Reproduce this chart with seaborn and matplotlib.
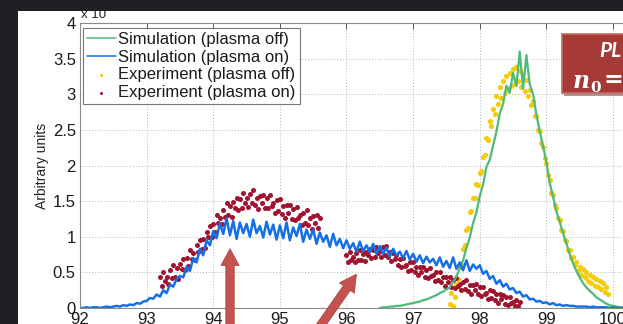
import numpy as np
import pandas as pd
import matplotlib
matplotlib.use("Agg")
import matplotlib.pyplot as plt
import seaborn as sns
from matplotlib.patches import Rectangle, FancyArrowPatch, ArrowStyle

# ---------------------------------------------------------------------------
# Spectra (signal in units of 1e4), sampled on regular energy grids
# ---------------------------------------------------------------------------
SIM_ON_START, SIM_ON_STEP = 92.0, 0.05
sim_on = [
    0.00, 0.00, 0.01, 0.00, 0.01, 0.01, 0.00, 0.01, 0.02, 0.01,
    0.02, 0.03, 0.02, 0.04, 0.03, 0.05, 0.04, 0.07, 0.06, 0.09,
    0.10, 0.14, 0.13, 0.19, 0.16, 0.25, 0.21, 0.33, 0.30, 0.41,
    0.45, 0.43, 0.58, 0.52, 0.70, 0.64, 0.83, 0.74, 0.95, 0.88,
    1.08, 0.98, 1.19, 1.04, 1.26, 1.02, 1.22, 0.97, 1.20, 1.05,
    1.18, 1.00, 1.24, 1.05, 1.15, 0.99, 1.21, 1.03, 1.17, 0.96,
    1.16, 0.98, 1.20, 0.95, 1.13, 1.01, 1.18, 0.93, 1.10, 0.97,
    1.10, 0.90, 1.06, 0.93, 1.02, 0.86, 1.04, 0.88, 0.97, 0.84,
    0.95, 0.83, 0.91, 0.79, 0.93, 0.80, 0.88, 0.78, 0.90, 0.76,
    0.87, 0.76, 0.85, 0.72, 0.83, 0.74, 0.79, 0.70, 0.80, 0.68,
    0.76, 0.65, 0.74, 0.63, 0.72, 0.64, 0.69, 0.60, 0.71, 0.58,
    0.66, 0.56, 0.71, 0.55, 0.64, 0.53, 0.67, 0.52, 0.61, 0.55,
    0.60, 0.48, 0.52, 0.41, 0.45, 0.34, 0.39, 0.30, 0.34, 0.26,
    0.28, 0.21, 0.23, 0.16, 0.18, 0.12, 0.13, 0.09, 0.10, 0.07,
    0.08, 0.05, 0.07, 0.04, 0.05, 0.03, 0.04, 0.03, 0.03, 0.02,
    0.02, 0.02, 0.02, 0.01, 0.02, 0.01, 0.01, 0.01, 0.01, 0.00,
    0.01, 0.00, 0.00, 0.00, 0.00,
]

SIM_OFF_START, SIM_OFF_STEP = 96.5, 0.05
sim_off = [
    0.00, 0.01, 0.01, 0.02, 0.02, 0.03, 0.03, 0.04, 0.05, 0.06,
    0.07, 0.08, 0.09, 0.11, 0.12, 0.14, 0.16, 0.18, 0.21, 0.23,
    0.26, 0.29, 0.37, 0.44, 0.56, 0.67, 0.84, 0.99, 1.19, 1.34,
    1.57, 1.73, 1.98, 2.08, 2.28, 2.47, 2.73, 2.86, 3.12, 3.02,
    3.30, 3.12, 3.60, 3.08, 3.55, 3.14, 3.00, 2.72, 2.48, 2.27,
    2.05, 1.76, 1.56, 1.36, 1.21, 1.05, 0.91, 0.76, 0.63, 0.52,
    0.43, 0.35, 0.29, 0.24, 0.20, 0.15, 0.12, 0.09, 0.06, 0.04,
    0.03, 0.02, 0.01, 0.01, 0.00,
]

EXP_OFF_START, EXP_OFF_STEP = 97.55, 0.025
exp_off = [
    0.06, 0.21, 0.03, 0.16, 0.33, 0.41, 0.58, 0.62, 0.83, 0.88,
    1.10, 1.12, 1.35, 1.36, 1.55, 1.55, 1.74, 1.72, 1.90, 1.92,
    2.12, 2.15, 2.38, 2.36, 2.62, 2.55, 2.80, 2.72, 2.98, 2.86,
    3.10, 2.95, 3.18, 3.02, 3.26, 3.08, 3.30, 3.12, 3.36, 3.15,
    3.38, 3.18, 3.32, 3.10, 3.28, 3.05, 3.20, 2.98, 3.06, 2.85,
    2.90, 2.70, 2.70, 2.50, 2.48, 2.32, 2.26, 2.10, 2.04, 1.86,
    1.80, 1.62, 1.58, 1.44, 1.40, 1.27, 1.24, 1.10, 1.08, 0.95,
    0.94, 0.82, 0.82, 0.70, 0.72, 0.60, 0.64, 0.52, 0.58, 0.47,
    0.55, 0.43, 0.50, 0.38, 0.47, 0.35, 0.44, 0.31, 0.41, 0.29,
    0.38, 0.26, 0.35, 0.22, 0.30, 0.20,
]

# plasma-on measurement was recorded in two windows
EXP_ON_A_START, EXP_ON_B_START, EXP_ON_STEP = 93.2, 96.0, 0.025
exp_on_a = [
    0.44, 0.31, 0.51, 0.38, 0.44, 0.34, 0.53, 0.42, 0.61, 0.43,
    0.56, 0.41, 0.62, 0.55, 0.69, 0.53, 0.70, 0.59, 0.81, 0.69,
    0.77, 0.68, 0.89, 0.79, 0.96, 0.83, 0.97, 0.84, 1.06, 1.00,
    1.15, 1.00, 1.18, 1.07, 1.30, 1.19, 1.27, 1.18, 1.38, 1.28,
    1.48, 1.30, 1.43, 1.28, 1.49, 1.41, 1.54, 1.37, 1.53, 1.40,
    1.61, 1.48, 1.54, 1.42, 1.60, 1.47, 1.65, 1.45, 1.55, 1.39,
    1.57, 1.48, 1.59, 1.40, 1.55, 1.40, 1.58, 1.43, 1.47, 1.34,
    1.51, 1.36, 1.53, 1.32, 1.43, 1.26, 1.44, 1.34, 1.44, 1.25,
    1.39, 1.24, 1.42, 1.26, 1.30, 1.17, 1.34, 1.20, 1.37, 1.17,
    1.27, 1.11, 1.29, 1.20, 1.30, 1.12, 1.26,
]
exp_on_b = [
    0.75, 0.64, 0.78, 0.68, 0.71, 0.64, 0.77, 0.68, 0.81, 0.68,
    0.76, 0.66, 0.79, 0.74, 0.83, 0.70, 0.82, 0.72, 0.86, 0.77,
    0.80, 0.72, 0.85, 0.74, 0.87, 0.72, 0.78, 0.66, 0.77, 0.69,
    0.75, 0.60, 0.69, 0.57, 0.70, 0.59, 0.61, 0.52, 0.64, 0.53,
    0.65, 0.50, 0.58, 0.46, 0.58, 0.51, 0.58, 0.44, 0.54, 0.42,
    0.56, 0.45, 0.47, 0.38, 0.50, 0.39, 0.51, 0.36, 0.43, 0.31,
    0.43, 0.36, 0.44, 0.30, 0.40, 0.28, 0.42, 0.31, 0.33, 0.25,
    0.37, 0.27, 0.39, 0.24, 0.32, 0.20, 0.32, 0.25, 0.33, 0.19,
    0.29, 0.17, 0.30, 0.19, 0.21, 0.12, 0.25, 0.14, 0.24, 0.11,
    0.19, 0.07, 0.19, 0.12, 0.18, 0.06, 0.16, 0.04, 0.15, 0.07,
    0.09, 0.03, 0.11, 0.03, 0.08,
]

x_ticks = [92, 93, 94, 95, 96, 97, 98, 99, 100]
y_ticks = [0, 0.5, 1, 1.5, 2, 2.5, 3, 3.5, 4]
y_tick_labels = ["0", "0.5", "1", "1.5", "2", "2.5", "3", "3.5", "4"]

labels = ["Simulation (plasma off)", "Simulation (plasma on)",
          "Experiment (plasma off)", "Experiment (plasma on)"]
colors = ["#4fb97a", "#1570e6", "#f4cc08", "#a1122e"]


def grid_frame(start, step, values):
    energy = start + step * np.arange(len(values))
    return pd.DataFrame({"energy": energy, "signal": values})


df_sim_off = grid_frame(SIM_OFF_START, SIM_OFF_STEP, sim_off)
df_sim_on = grid_frame(SIM_ON_START, SIM_ON_STEP, sim_on)
df_exp_off = grid_frame(EXP_OFF_START, EXP_OFF_STEP, exp_off)
df_exp_on = pd.concat([grid_frame(EXP_ON_A_START, EXP_ON_STEP, exp_on_a),
                       grid_frame(EXP_ON_B_START, EXP_ON_STEP, exp_on_b)],
                      ignore_index=True)

# ---------------------------------------------------------------------------
sns.set_theme(style="white")
plt.rcParams["font.family"] = ["Liberation Sans", "DejaVu Sans"]

W, H = 623, 324
DARK = "#1f2023"
fig = plt.figure(figsize=(W / 100, H / 100), dpi=100, facecolor=DARK)


def fx(x):
    return x / W


def fy(y):
    return 1 - y / H


# white figure panel
fig.add_artist(Rectangle((fx(18), 0), 1 - fx(18), fy(11), transform=fig.transFigure,
                         facecolor="white", edgecolor="none", zorder=-2))

ax = fig.add_axes([fx(80), fy(308), 566.3 / W, 285 / H])
ax.set_facecolor("white")

sns.lineplot(data=df_sim_off, x="energy", y="signal", ax=ax, color=colors[0],
             linewidth=1.6, sort=False, errorbar=None, label=labels[0])
sns.lineplot(data=df_sim_on, x="energy", y="signal", ax=ax, color=colors[1],
             linewidth=1.8, sort=False, errorbar=None, label=labels[1])
sns.scatterplot(data=df_exp_off, x="energy", y="signal", ax=ax, color=colors[2],
                s=14, linewidth=0, label=labels[2])
sns.scatterplot(data=df_exp_on, x="energy", y="signal", ax=ax, color=colors[3],
                s=13, linewidth=0, label=labels[3])

ax.set_xlim(92, 100.5)
ax.set_ylim(0, 4)
ax.set_xticks(x_ticks)
ax.set_xticklabels([str(t) for t in x_ticks])
ax.set_yticks(y_ticks)
ax.set_yticklabels(y_tick_labels)
ax.set_xlabel("")
ax.set_ylabel("Arbitrary units", fontsize=10, color="#222222")
ax.yaxis.set_label_coords(-0.055, 0.5)
ax.tick_params(direction="in", length=4, width=0.7, top=True, right=True,
               labelsize=12, colors="#555555", labelcolor="#1a1a1a", pad=3)
ax.grid(True, linestyle=(0, (1, 2)), color="#b4b4b4", linewidth=0.7)
for sp in ax.spines.values():
    sp.set_color("#8a8a8a")
    sp.set_linewidth(0.8)

handles, labs = ax.get_legend_handles_labels()
leg = ax.legend(handles, labs, loc="upper left",
                bbox_to_anchor=(fx(83), fy(28)), bbox_transform=fig.transFigure,
                borderaxespad=0, fontsize=12, frameon=True, fancybox=False,
                handlelength=1.7, handletextpad=0.15, labelspacing=0.16,
                borderpad=0.25, markerscale=0.6, scatterpoints=1)
leg.get_frame().set_edgecolor("#555555")
leg.get_frame().set_linewidth(0.8)
for t in leg.get_texts():
    t.set_color("#1a1a1a")
for ln in leg.get_lines():
    ln.set_linewidth(1.1)

# axis multiplier
fig.text(fx(81), fy(18), "x 10", fontsize=9.5, color="#222222", va="baseline", zorder=3)
fig.text(fx(108), fy(11), "4", fontsize=7, color="#222222", va="baseline", zorder=3)

# dark slide margins on top of the panel
fig.add_artist(Rectangle((0, fy(11)), 1, 1 - fy(11), transform=fig.transFigure,
                         facecolor=DARK, edgecolor="none", zorder=5))
fig.add_artist(Rectangle((0, 0), fx(18), 1, transform=fig.transFigure,
                         facecolor=DARK, edgecolor="none", zorder=5))

# callout box
fig.add_artist(Rectangle((fx(564), fy(96)), fx(80), fy(34) - fy(95), transform=fig.transFigure,
                         facecolor="#5c1f1c", edgecolor="none", alpha=0.45, zorder=6))
fig.add_artist(Rectangle((fx(562), fy(93)), fx(80), fy(34) - fy(93), transform=fig.transFigure,
                         facecolor="#a63a36", edgecolor="#c66a64", linewidth=1.2, zorder=7))
fig.text(fx(599), fy(51), "PL", fontsize=15, fontweight="bold", fontstyle="italic",
         color="white", va="center", ha="left", family=["Lato", "DejaVu Sans"], zorder=8)
fig.text(fx(573), fy(88), "n", fontsize=17, fontweight="bold", fontstyle="italic",
         color="white", va="baseline", ha="left", family=["DejaVu Serif"], zorder=8)
fig.text(fx(590), fy(92), "0", fontsize=11, fontweight="bold",
         color="white", va="baseline", ha="left", family=["DejaVu Serif"], zorder=8)
fig.text(fx(604), fy(87), "=", fontsize=17, fontweight="bold",
         color="white", va="baseline", ha="left", family=["DejaVu Serif"], zorder=8)

# pointer arrows
arrow_style = ArrowStyle.Simple(head_length=1.2, head_width=1.3, tail_width=0.6)
for tail, tip in [((230, 335), (230, 246)), ((314, 335), (358, 272))]:
    fig.add_artist(FancyArrowPatch((fx(tail[0]), fy(tail[1])), (fx(tip[0]), fy(tip[1])),
                                   transform=fig.transFigure, arrowstyle=arrow_style,
                                   mutation_scale=10, facecolor="#c4524e",
                                   edgecolor="#ad4440", linewidth=0.6, zorder=6))

fig.savefig("out.png", dpi=100, facecolor=DARK)
